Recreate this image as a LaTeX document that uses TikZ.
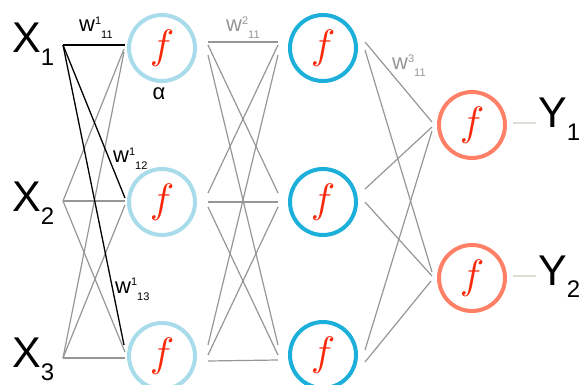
\documentclass[tikz,border=0pt]{standalone}
\usepackage{graphicx}
\usepackage{fontspec}
\setmainfont{Liberation Sans}
\definecolor{ringA}{RGB}{169,220,234}
\definecolor{ringB}{RGB}{27,175,217}
\definecolor{ringC}{RGB}{255,128,102}
\definecolor{fred}{RGB}{250,40,10}
\definecolor{wire}{RGB}{150,150,150}
\definecolor{outwire}{RGB}{222,222,214}
\newcommand{\wlab}[2]{w\raisebox{7pt}{\fontsize{11}{11}\selectfont #1}\raisebox{-7pt}{\fontsize{11}{11}\selectfont #2}}
\newcommand{\biglab}[2]{#1\raisebox{-13pt}{\fontsize{24}{24}\selectfont #2}}
\newcommand{\actf}{\scalebox{4.1}{$f$}}
\begin{document}
\begin{tikzpicture}[x=1pt,y=-1pt,
  neuron/.style={circle,minimum size=66pt,inner sep=0pt,line width=4pt,
    font=\fontsize{10}{12}\selectfont,text=fred},
  lay1/.style={neuron,draw=ringA},
  lay2/.style={neuron,draw=ringB},
  lay3/.style={neuron,draw=ringC},
  gw/.style={draw=wire,line width=1.2pt},
  bw/.style={draw=black,line width=1.3pt},
  ow/.style={draw=outwire,line width=1.3pt},
  big/.style={anchor=base west,inner sep=0pt,font=\fontsize{43}{43}\selectfont},
  wl/.style={anchor=base west,inner sep=0pt,font=\fontsize{22}{22}\selectfont},
]
\useasboundingbox (0,0) rectangle (579,385);

% neurons
\node[lay1] (n1) at (162,48) {\actf};
\node[lay1] (n2) at (162,202) {\actf};
\node[lay1] (n3) at (162,356) {\actf};
\node[lay2] (m1) at (323,48) {\actf};
\node[lay2] (m2) at (323,202) {\actf};
\node[lay2] (m3) at (323,355) {\actf};
\node[lay3] (o1) at (472,125) {\actf};
\node[lay3] (o2) at (472,278) {\actf};

% input / output labels
\node[big] (x1) at (12,53) {\biglab{X}{1}};
\node[big] (x2) at (12,212) {\biglab{X}{2}};
\node[big] (x3) at (12,367) {\biglab{X}{3}};
\node[big] (y1) at (538,128) {\biglab{Y}{1}};
\node[big] (y2) at (538,285) {\biglab{Y}{2}};

% weight labels
\node[wl] (w111) at (79,32) {\wlab{1}{11}};
\node[wl] (w112) at (113,163) {\wlab{1}{12}};
\node[wl] (w113) at (115,293) {\wlab{1}{13}};
\node[wl,text=wire] (w211) at (226,32) {\wlab{2}{11}};
\node[wl,text=wire] (w311) at (392,70) {\wlab{3}{11}};
\node[anchor=base,inner sep=0pt,font=\fontsize{22}{22}\selectfont] (alpha) at (159,100) {α};

% layer 1 wire ends
\coordinate (a1) at (63,45);
\coordinate (a2) at (63,201);
\coordinate (a3) at (63,358);
\coordinate (b11) at (125,45);
\coordinate (b12) at (125,198);
\coordinate (b13) at (124,345);
\coordinate (b21) at (124,49);
\coordinate (b22) at (125,201);
\coordinate (b23) at (125,352);
\coordinate (b31) at (124,52);
\coordinate (b32) at (125,205);
\coordinate (b33) at (125,358);

\draw[gw] (a2) -- (b21);
\draw[gw] (a2) -- (b22);
\draw[gw] (a2) -- (b23);
\draw[gw] (a3) -- (b31);
\draw[gw] (a3) -- (b32);
\draw[gw] (a3) -- (b33);
\draw[bw] (a1) -- (b11);
\draw[bw] (a1) -- (b12);
\draw[bw] (a1) -- (b13);

% layer 2 wire ends
\coordinate (c11) at (208,42);  \coordinate (d11) at (278,42);
\coordinate (c12) at (208,45);  \coordinate (d12) at (278,193);
\coordinate (c13) at (208,55);  \coordinate (d13) at (278,345);
\coordinate (c21) at (208,193); \coordinate (d21) at (278,45);
\coordinate (c22) at (208,202); \coordinate (d22) at (278,202);
\coordinate (c23) at (208,207); \coordinate (d23) at (278,355);
\coordinate (c31) at (208,345); \coordinate (d31) at (278,55);
\coordinate (c32) at (208,355); \coordinate (d32) at (278,207);
\coordinate (c33) at (208,361); \coordinate (d33) at (278,360);
\foreach \i in {1,2,3}{\foreach \j in {1,2,3}{\draw[gw] (c\i\j) -- (d\i\j);}}

% layer 3 wire ends
\coordinate (e11) at (365,42);  \coordinate (f11) at (432,122);
\coordinate (e12) at (365,50);  \coordinate (f12) at (432,272);
\coordinate (e21) at (365,189); \coordinate (f21) at (432,127);
\coordinate (e22) at (365,202); \coordinate (f22) at (432,276);
\coordinate (e31) at (365,350); \coordinate (f31) at (432,131);
\coordinate (e32) at (365,362); \coordinate (f32) at (431,281);
\foreach \i in {1,2,3}{\foreach \j in {1,2}{\draw[gw] (e\i\j) -- (f\i\j);}}

% output wires
\coordinate (g1) at (513,123); \coordinate (h1) at (536,123);
\coordinate (g2) at (513,276); \coordinate (h2) at (536,276);
\draw[ow] (g1) -- (h1);
\draw[ow] (g2) -- (h2);
\end{tikzpicture}
\end{document}
